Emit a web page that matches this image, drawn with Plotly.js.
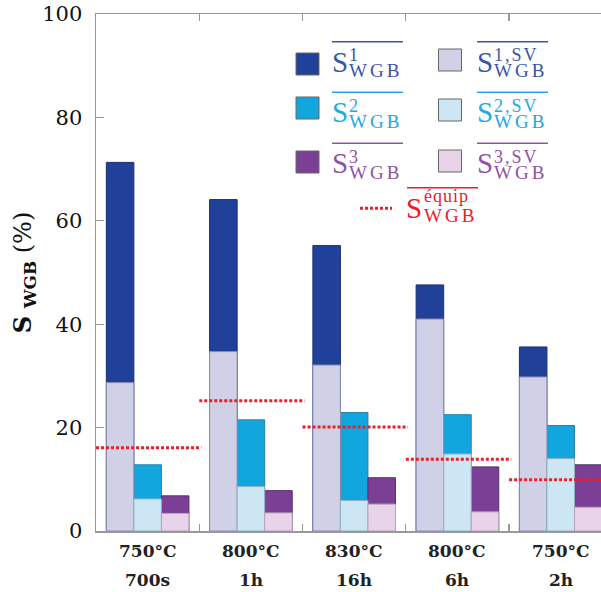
<!DOCTYPE html>
<html>
<head>
<meta charset="utf-8">
<script src="https://cdn.plot.ly/plotly-3.0.1.min.js"></script>
<style>html,body{margin:0;padding:0;background:#fff;overflow:hidden;}</style>
</head>
<body>
<div id="chart" style="width:601px;height:592px;"></div>
<script>
// ---- data ----
const temps = ['750°C', '800°C', '830°C', '800°C', '750°C'];
const times = ['700s', '1h', '16h', '6h', '2h'];
const s1 = [71.3, 64.1, 55.2, 47.6, 35.6];
const s2 = [12.8, 21.5, 22.9, 22.5, 20.4];
const s3 = [6.8, 7.8, 10.3, 12.4, 12.8];
const s1sv = [28.7, 34.7, 32.1, 41.0, 29.8];
const s2sv = [6.2, 8.6, 5.9, 14.9, 14.0];
const s3sv = [3.4, 3.5, 5.2, 3.7, 4.6];
const equip = [16.1, 25.2, 20.1, 13.9, 9.9];
const yTicks = [0, 20, 40, 60, 80, 100];

const cats = temps.map((t, i) => t + ' ' + times[i]);

// ---- styles ----
const C = {
  s1: '#21409a', s2: '#12a6df', s3: '#7b3f96',
  s1sv: '#d0d0e7', s2sv: '#cde6f4', s3sv: '#e8d3e8',
  l1: '#3a55a8', l2: '#25a8e0', l3: '#9052a5', red: '#e8202a'
};
const W = 601, H = 592, M = {l: 96, r: 0, t: 14, b: 61};
const PW = W - M.l - M.r, PH = H - M.t - M.b;
const px = x => (x - M.l) / PW;
const py = y => (H - M.b - y) / PH;

function bar(vals, color, lineColor, og) {
  return {
    type: 'bar', x: cats, y: vals, offsetgroup: og,
    marker: {color: color, line: {color: lineColor, width: 1}},
    showlegend: false, hoverinfo: 'skip'
  };
}
const traces = [
  bar(s1, C.s1, '#1a2f72', 'a'),
  bar(s2, C.s2, '#2a7fa5', 'b'),
  bar(s3, C.s3, '#55306a', 'c'),
  bar(s1sv, C.s1sv, '#8a8cae', 'a'),
  bar(s2sv, C.s2sv, '#8fb0c4', 'b'),
  bar(s3sv, C.s3sv, '#b7a3b8', 'c')
];

const shapes = [];
const annotations = [];

// equilibrium dotted lines
equip.forEach((v, i) => {
  shapes.push({type: 'line', xref: 'x', yref: 'y', x0: i - 0.5, x1: i + 0.52, y0: v, y1: v,
    line: {color: C.red, width: 3, dash: '3px,2px'}});
});

// category labels (two lines)
temps.forEach((t, i) => {
  annotations.push({xref: 'x', yref: 'paper', x: i, y: py(551), text: t, showarrow: false,
    xanchor: 'center', yanchor: 'middle', borderpad: 0,
    font: {family: 'DejaVu Serif', size: 17, color: '#222', weight: 'bold'}});
  annotations.push({xref: 'x', yref: 'paper', x: i, y: py(580), text: times[i], showarrow: false,
    xanchor: 'center', yanchor: 'middle', borderpad: 0,
    font: {family: 'DejaVu Serif', size: 17, color: '#222', weight: 'bold'}});
});

// ---- custom legend ----
const serif = 'Liberation Serif';
function supSub(sup, supSpacing) {
  return '<span style="font-size:18px;letter-spacing:' + supSpacing + 'px">' + sup + '</span>' +
    '<br><span style="font-size:19px;letter-spacing:3px">WGB</span>';
}
function legendLabel(xl, over, sup, color, width, supSpacing) {
  const x1 = xl + width;
  shapes.push({type: 'line', xref: 'paper', yref: 'paper', x0: px(xl), x1: px(x1), y0: py(over), y1: py(over),
    line: {color: color, width: 1.5}});
  annotations.push({xref: 'paper', yref: 'paper', x: px(xl - 1), y: py(over + 20), text: 'S',
    showarrow: false, xanchor: 'left', yanchor: 'middle', borderpad: 0,
    font: {family: serif, size: 29, color: color}});
  annotations.push({xref: 'paper', yref: 'paper', x: px(xl + 16), y: py(over + 21.5),
    text: supSub(sup, supSpacing), align: 'left',
    showarrow: false, xanchor: 'left', yanchor: 'middle', borderpad: 0,
    font: {family: serif, size: 12.3, color: color}});
}
function legendSquare(cx, cy, color) {
  shapes.push({type: 'rect', xref: 'paper', yref: 'paper', x0: px(cx - 11.5), x1: px(cx + 11.5),
    y0: py(cy + 11), y1: py(cy - 11), fillcolor: color, line: {color: '#666', width: 1}});
}
const rowsOver = [41.7, 92.3, 143.3];
const sqY1 = [64, 108, 162];
const sqY2 = [60, 110, 161];
const labColors = [C.l1, C.l2, C.l3];
const fills = [C.s1, C.s2, C.s3];
const fillsSV = [C.s1sv, C.s2sv, C.s3sv];
['1', '2', '3'].forEach((n, k) => {
  legendSquare(307.5, sqY1[k], fills[k]);
  legendLabel(332, rowsOver[k], n, labColors[k], 71, 0);
  legendSquare(450, sqY2[k], fillsSV[k]);
  legendLabel(477, rowsOver[k], n + ',SV', labColors[k], 71, 2);
});
// equilibrium legend
shapes.push({type: 'line', xref: 'paper', yref: 'paper', x0: px(360), x1: px(392), y0: py(208.3), y1: py(208.3),
  line: {color: C.red, width: 3, dash: '3px,2px'}});
shapes.push({type: 'line', xref: 'paper', yref: 'paper', x0: px(407), x1: px(478), y0: py(187.7), y1: py(187.7),
  line: {color: C.red, width: 1.5}});
annotations.push({xref: 'paper', yref: 'paper', x: px(405), y: py(208), text: 'S', showarrow: false,
  xanchor: 'left', yanchor: 'middle', borderpad: 0, font: {family: serif, size: 29, color: C.red}});
annotations.push({xref: 'paper', yref: 'paper', x: px(423), y: py(206), align: 'left',
  text: '<span style="font-size:18px;letter-spacing:1px">équip</span><br>' +
        '<span style="font-size:19px;letter-spacing:3px">WGB</span>',
  showarrow: false, xanchor: 'left', yanchor: 'middle', borderpad: 0,
  font: {family: serif, size: 15.5, color: C.red}});

const layout = {
  width: W, height: H, margin: M,
  paper_bgcolor: '#fff', plot_bgcolor: '#fff',
  barmode: 'group', bargap: 0.2, bargroupgap: 0,
  showlegend: false,
  xaxis: {
    type: 'category', range: [-0.5, 4.39], tickson: 'boundaries',
    ticks: 'inside', ticklen: 7, tickcolor: '#999', tickwidth: 1.2,
    showticklabels: false, showgrid: false, zeroline: false,
    showline: true, linecolor: '#999', linewidth: 1.5, mirror: 'ticks'
  },
  yaxis: {
    range: [0, 100], tickvals: yTicks, ticktext: yTicks.map(String),
    ticks: 'inside', ticklen: 8, tickcolor: '#999', tickwidth: 1.2,
    ticklabelstandoff: 8,
    tickfont: {family: 'DejaVu Serif', size: 21, color: '#111'},
    showgrid: false, zeroline: false, showline: true, linecolor: '#999', linewidth: 1.5,
    title: {text: '<b>S</b> <sub><b>WGB</b></sub> (%)', standoff: 4,
      font: {family: 'DejaVu Serif', size: 24, color: '#111'}}
  },
  shapes: shapes,
  annotations: annotations
};

Plotly.newPlot('chart', traces, layout, {staticPlot: true, displayModeBar: false});
</script>
</body>
</html>
